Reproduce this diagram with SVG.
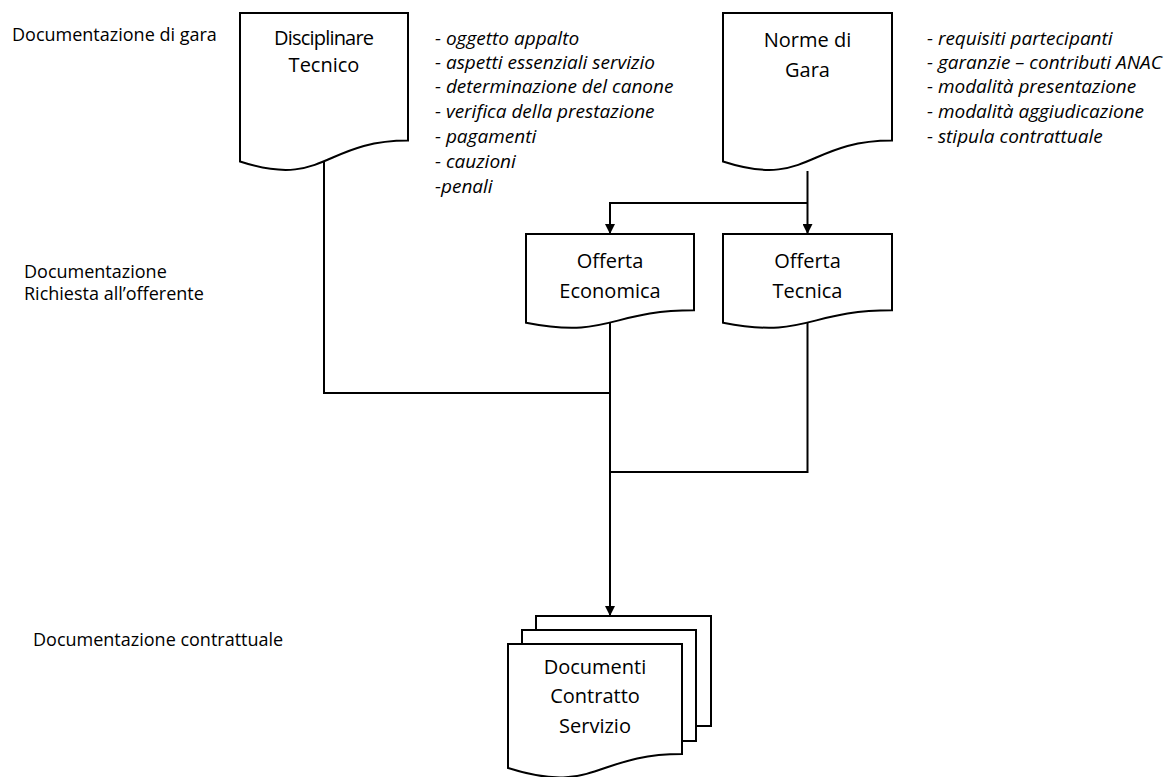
<svg xmlns="http://www.w3.org/2000/svg" width="1175" height="777" viewBox="0 0 1175 777">
<style>
  .shape{fill:#fff;stroke:#000;stroke-width:2;stroke-linejoin:miter}
  .conn{fill:none;stroke:#000;stroke-width:2}
  .t{font-family:"Open Sans","Liberation Sans",sans-serif;font-size:18px;fill:#000}
  .n{font-family:"Open Sans","Liberation Sans",sans-serif;font-size:20px;fill:#000;text-anchor:middle}
  .i{font-family:"Open Sans","Liberation Sans",sans-serif;font-size:19px;font-style:italic;fill:#000}
</style>
<defs>
  <marker id="arr" viewBox="0 0 10 10" refX="10" refY="5" markerWidth="10" markerHeight="10" markerUnits="userSpaceOnUse" orient="auto">
    <path d="M0,0 L10,5 L0,10 Z" fill="#000"/>
  </marker>
</defs>
<rect width="1175" height="777" fill="#fff"/>

<g id="labels">
  <text class="t" x="12" y="41">Documentazione di gara</text>
  <text class="t" x="24" y="278">Documentazione</text>
  <text class="t" x="24" y="300">Richiesta all’offerente</text>
  <text class="t" x="33" y="646">Documentazione contrattuale</text>
</g>

<g id="list-disciplinare">
  <text class="i" x="435" y="45">- oggetto appalto</text>
  <text class="i" x="435" y="69">- aspetti essenziali servizio</text>
  <text class="i" x="435" y="93">- determinazione del canone</text>
  <text class="i" x="435" y="118">- verifica della prestazione</text>
  <text class="i" x="435" y="143">- pagamenti</text>
  <text class="i" x="435" y="168">- cauzioni</text>
  <text class="i" x="435" y="193">-penali</text>
</g>

<g id="list-norme">
  <text class="i" x="927" y="45">- requisiti partecipanti</text>
  <text class="i" x="927" y="69">- garanzie – contributi ANAC</text>
  <text class="i" x="927" y="93">- modalità presentazione</text>
  <text class="i" x="927" y="118">- modalità aggiudicazione</text>
  <text class="i" x="927" y="143">- stipula contrattuale</text>
</g>

<g id="connectors">
  <path class="conn" d="M807.5,171 V234" marker-end="url(#arr)"/>
  <path class="conn" d="M807.5,203 H610 V234" marker-end="url(#arr)"/>
  <path class="conn" d="M324,161 V393 H610"/>
  <path class="conn" d="M807.5,323 V472 H610"/>
  <path class="conn" d="M610,323 V616" marker-end="url(#arr)"/>
</g>

<g id="disciplinare">
  <path class="shape" d="M240,13 H408 V140.5 C324,140.5 324,189 240,161.5 Z"/>
  <text class="n" x="324" y="45" textLength="100" lengthAdjust="spacing">Disciplinare</text>
  <text class="n" x="324" y="72">Tecnico</text>
</g>

<g id="norme">
  <path class="shape" d="M723,13 H892 V140.5 C807.5,140.5 807.5,189 723,161.5 Z"/>
  <text class="n" x="807.5" y="47">Norme di</text>
  <text class="n" x="807.5" y="77">Gara</text>
</g>

<g id="offerta-economica">
  <path class="shape" d="M526,234 H694 V310.2 C610,310.2 610,339.2 526,322.7 Z"/>
  <text class="n" x="610" y="268">Offerta</text>
  <text class="n" x="610" y="298">Economica</text>
</g>

<g id="offerta-tecnica">
  <path class="shape" d="M723,234 H892 V310.2 C807.5,310.2 807.5,339.2 723,322.7 Z"/>
  <text class="n" x="807.5" y="268">Offerta</text>
  <text class="n" x="807.5" y="298">Tecnica</text>
</g>

<g id="documenti-contratto">
  <rect class="shape" x="536" y="616" width="175" height="110"/>
  <rect class="shape" x="522" y="630" width="174" height="111"/>
  <path class="shape" d="M508,644 H682 V754 C595,754 595,795.7 508,768 Z"/>
  <text class="n" x="595" y="674">Documenti</text>
  <text class="n" x="595" y="703">Contratto</text>
  <text class="n" x="595" y="733">Servizio</text>
</g>
</svg>
